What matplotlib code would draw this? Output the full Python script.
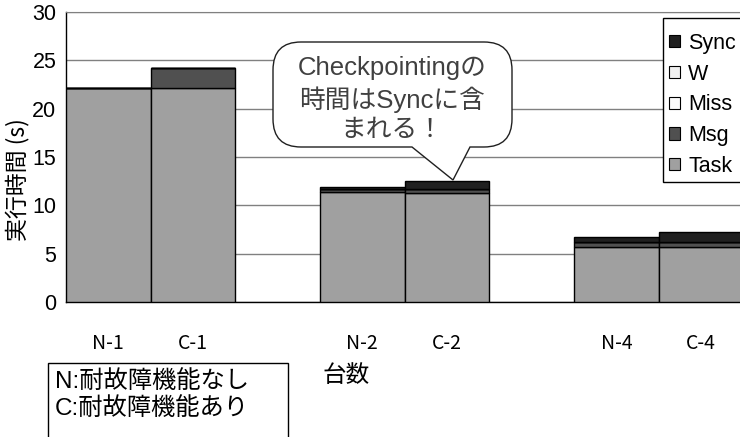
import numpy as np
import matplotlib
matplotlib.use('Agg')
import matplotlib.pyplot as plt
from matplotlib.patches import Rectangle, Patch, PathPatch
from matplotlib.path import Path

# %% data (seconds)
labels = ['N-1', 'C-1', 'N-2', 'C-2', 'N-4', 'C-4']
slots = [0, 1, 3, 4, 6, 7]  # bar slots, gap between node counts
task = [22.1, 22.1, 11.35, 11.3, 5.72, 5.72]
msg = [0.0, 2.15, 0.35, 0.35, 0.52, 0.52]
miss = [0.0, 0.0, 0.0, 0.0, 0.0, 0.0]
w = [0.0, 0.0, 0.0, 0.0, 0.0, 0.0]
sync = [0.0, 0.0, 0.17, 0.9, 0.45, 0.97]

series = [('Task', task, '#a0a0a0'), ('Msg', msg, '#505050'),
          ('Miss', miss, '#fafafa'), ('W', w, '#f0f0f0'),
          ('Sync', sync, '#202020')]

# %% settings
W_PX, H_PX = 740, 437
jp = ['Noto Sans CJK JP', 'DejaVu Sans']
latin_jp = ['Liberation Sans', 'Noto Sans CJK JP', 'DejaVu Sans']


def px(x, y):
    # pixel position (from top left) -> figure fraction
    return x / W_PX, 1 - y / H_PX


fig = plt.figure(figsize=(W_PX / 100, H_PX / 100), dpi=100)
ax = fig.add_axes([66 / W_PX, 1 - 302 / H_PX, 762 / W_PX, 290 / H_PX])

x = np.array(slots) + 0.5
bottom = np.zeros(len(labels))
for name, vals, c in series:
    ax.bar(x, vals, width=1, bottom=bottom, color=c, edgecolor='black',
           linewidth=1, zorder=3)
    bottom += np.array(vals)

ax.set_xlim(0, 9)
ax.set_ylim(0, 30)
ax.set_yticks(np.arange(0, 31, 5))
ax.yaxis.grid(True, color='#808080', lw=1, zorder=0)
ax.set_axisbelow(True)
ax.set_xticks(x)
ax.set_xticklabels(labels, family=jp, fontsize=14)
for t in ax.get_yticklabels():
    t.set_family(latin_jp)
    t.set_fontsize(15.5)
ax.tick_params(axis='y', length=0, pad=7)
ax.tick_params(axis='x', length=0, pad=22)
ax.spines['top'].set_color('#808080')
ax.spines['right'].set_visible(False)
for s in ['left', 'bottom']:
    ax.spines[s].set_color('black')
    ax.spines[s].set_linewidth(1)

# axis titles
fig.text(*px(17, 180), '実行時間 (s)', rotation=90, ha='center',
         va='center', family=jp, fontsize=16.5)
fig.text(*px(346, 376), '台数', ha='center', va='center', family=jp,
         fontsize=17)

# legend (frame drawn separately, it runs off the right edge)
fig.patches.append(Rectangle(px(663, 182), 120 / W_PX, 164 / H_PX,
                             transform=fig.transFigure, fc='white',
                             ec='black', lw=1, zorder=5))
handles = [Patch(fc=c, ec='black', lw=0.8, label=n)
           for n, v, c in series[::-1]]
leg = fig.legend(handles=handles, loc='upper left',
                 bbox_to_anchor=px(669, 33), frameon=False,
                 prop={'family': latin_jp, 'size': 15.5},
                 handlelength=0.5, handleheight=0.5, handletextpad=0.4,
                 labelspacing=0.45, borderaxespad=0, borderpad=0)
leg.set_zorder(6)

# speech bubble
l, r, t, b = 273, 512, 42, 147
rad = 28
tip = (453, 180)
pts = [(l + rad, t), (r - rad, t), (r, t), (r, t + rad), (r, b - rad),
       (r, b), (r - rad, b), (470, b), tip, (412, b), (l + rad, b),
       (l, b), (l, b - rad), (l, t + rad), (l, t), (l + rad, t), (0, 0)]
codes = [Path.MOVETO, Path.LINETO, Path.CURVE3, Path.CURVE3, Path.LINETO,
         Path.CURVE3, Path.CURVE3, Path.LINETO, Path.LINETO, Path.LINETO,
         Path.LINETO, Path.CURVE3, Path.CURVE3, Path.LINETO, Path.CURVE3,
         Path.CURVE3, Path.CLOSEPOLY]
bubble = Path([px(*p) for p in pts], codes)
fig.patches.append(PathPatch(bubble, transform=fig.transFigure, fc='white',
                             ec='#202020', lw=1, zorder=5))
fig.text(*px(392, 99), 'Checkpointingの\n時間はSyncに含\nまれる！',
         ha='center', va='center', multialignment='center',
         family=latin_jp, fontsize=18.5, color='#404040', linespacing=1.3,
         zorder=6)

# N / C note box
fig.patches.append(Rectangle(px(48, 460), 240 / W_PX, 97 / H_PX,
                             transform=fig.transFigure, fc='white',
                             ec='black', lw=1, zorder=5))
fig.text(*px(55, 395), 'N:耐故障機能なし\nC:耐故障機能あり', ha='left',
         va='center', family=latin_jp, fontsize=17.5, linespacing=1.2,
         zorder=6)

fig.savefig('out.png', dpi=100)
